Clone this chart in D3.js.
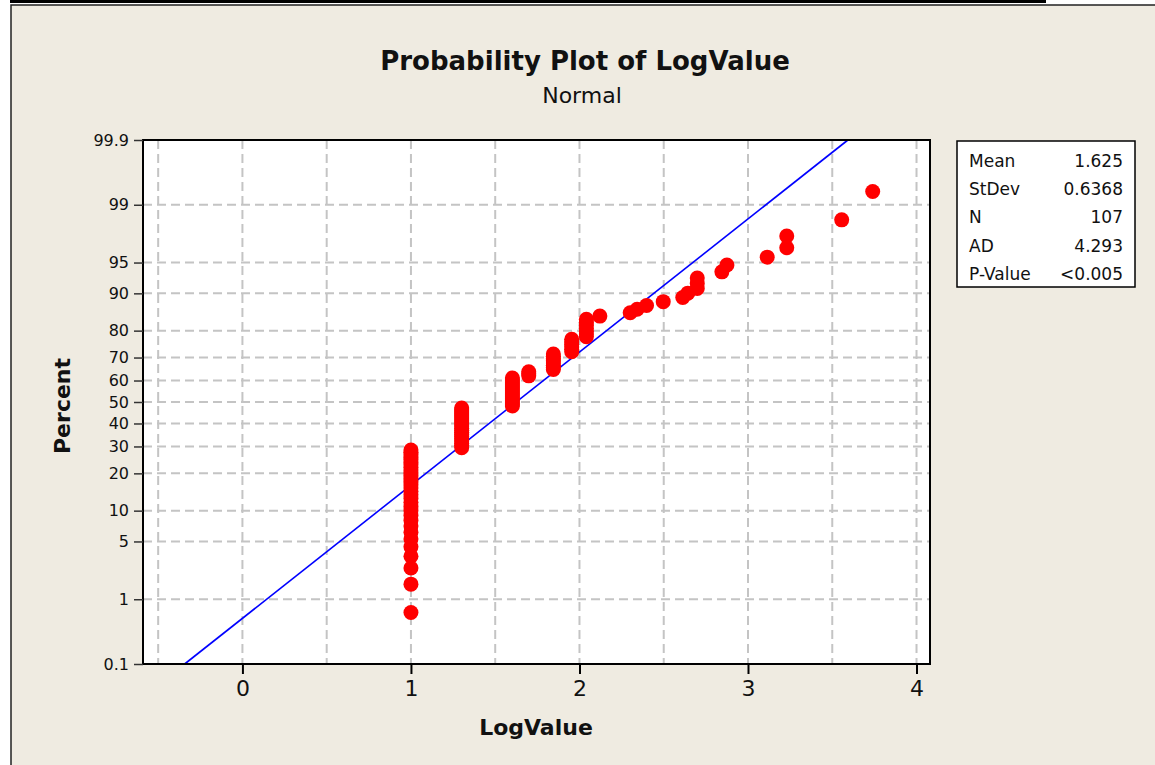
<!DOCTYPE html>
<html><head><meta charset="utf-8">
<script src="https://cdn.jsdelivr.net/npm/d3@7"></script>
<style>
html,body{margin:0;padding:0;background:#fff;}
svg{display:block;}
text{font-family:"DejaVu Sans",sans-serif;}
</style></head><body>
<svg id="chart" width="1155" height="765"></svg>
<script>
// Observed LogValue levels (ascending) and how many observations sit at each level
const logLevels   = [1.000, 1.301, 1.602, 1.699, 1.845, 1.954, 2.041, 2.121, 2.301, 2.342, 2.398, 2.497, 2.613, 2.643, 2.699, 2.845, 2.875, 3.114, 3.230, 3.556, 3.740];
const levelCounts = [31,    20,    15,    3,     8,     6,     7,     1,     1,     1,     1,     1,     1,     1,     3,     1,     1,     1,     2,     1,     1];

// Fitted normal distribution and summary statistics
const fitMean = 1.625;
const fitStDev = 0.6368;
const statLabels = ["Mean", "StDev", "N", "AD", "P-Value"];
const statValues = ["1.625", "0.6368", "107", "4.293", "<0.005"];

// Axis ticks
const xTicks = [0, 1, 2, 3, 4];
const xGrid = [-0.5, 0, 0.5, 1, 1.5, 2, 2.5, 3, 3.5, 4];
const xDomain = [-0.59, 4.08];
const pctTicks = [0.1, 1, 5, 10, 20, 30, 40, 50, 60, 70, 80, 90, 95, 99, 99.9];
const pctLabels = ["0.1", "1", "5", "10", "20", "30", "40", "50", "60", "70", "80", "90", "95", "99", "99.9"];

// Inverse of the standard normal CDF (Acklam's rational approximation)
function normInv(p) {
  const a = [-3.969683028665376e+01, 2.209460984245205e+02, -2.759285104469687e+02, 1.383577518672690e+02, -3.066479806614716e+01, 2.506628277459239e+00];
  const b = [-5.447609879822406e+01, 1.615858368580409e+02, -1.556989798598866e+02, 6.680131188771972e+01, -1.328068155288572e+01];
  const c = [-7.784894002430293e-03, -3.223964580411365e-01, -2.400758277161838e+00, -2.549732539343734e+00, 4.374664141464968e+00, 2.938163982698783e+00];
  const d = [7.784695709041462e-03, 3.224671290700398e-01, 2.445134137142996e+00, 3.754408661907416e+00];
  const pl = 0.02425, ph = 1 - pl;
  let q, r;
  if (p < pl) {
    q = Math.sqrt(-2 * Math.log(p));
    return (((((c[0]*q+c[1])*q+c[2])*q+c[3])*q+c[4])*q+c[5]) / ((((d[0]*q+d[1])*q+d[2])*q+d[3])*q+1);
  }
  if (p <= ph) {
    q = p - 0.5; r = q * q;
    return (((((a[0]*r+a[1])*r+a[2])*r+a[3])*r+a[4])*r+a[5])*q / (((((b[0]*r+b[1])*r+b[2])*r+b[3])*r+b[4])*r+1);
  }
  q = Math.sqrt(-2 * Math.log(1 - p));
  return -(((((c[0]*q+c[1])*q+c[2])*q+c[3])*q+c[4])*q+c[5]) / ((((d[0]*q+d[1])*q+d[2])*q+d[3])*q+1);
}

// Sorted sample and median-rank plotting positions (i - 0.3) / (n + 0.4)
const sample = [];
logLevels.forEach((v, k) => { for (let j = 0; j < levelCounts[k]; j++) sample.push(v); });
const n = sample.length;
const points = sample.map((v, i) => ({ v, p: (i + 1 - 0.3) / (n + 0.4) }));

const W = 1155, H = 765;
const plot = { left: 143, right: 930, top: 140, bottom: 664 };
const svg = d3.select("#chart");

// Page background and outer frame
svg.append("rect").attr("x", 0).attr("y", 0).attr("width", W).attr("height", H).attr("fill", "#fff");
svg.append("rect").attr("x", 11).attr("y", 5).attr("width", W).attr("height", H)
  .attr("fill", "#EFEBE1").attr("stroke", "#222").attr("stroke-width", 1.5);
svg.append("rect").attr("x", 10).attr("y", 0).attr("width", 1036).attr("height", 3).attr("fill", "#000");

// Scales: linear in LogValue, normal-quantile in percent
const x = d3.scaleLinear().domain(xDomain).range([plot.left, plot.right]);
const y = d3.scaleLinear().domain([normInv(0.001), normInv(0.999)]).range([plot.bottom, plot.top]);
const yPct = pct => y(normInv(pct / 100));

// Plot area
svg.append("rect").attr("x", plot.left).attr("y", plot.top)
  .attr("width", plot.right - plot.left).attr("height", plot.bottom - plot.top).attr("fill", "#fff");

const gridG = svg.append("g").attr("stroke", "#C4C4C4").attr("stroke-width", 2).attr("stroke-dasharray", "9,5");
gridG.selectAll("line.v").data(xGrid).join("line").attr("class", "v")
  .attr("x1", d => x(d)).attr("x2", d => x(d)).attr("y1", plot.top).attr("y2", plot.bottom);
gridG.selectAll("line.h").data(pctTicks.filter(p => p > 0.1 && p < 99.9)).join("line").attr("class", "h")
  .attr("x1", plot.left).attr("x2", plot.right).attr("y1", d => yPct(d)).attr("y2", d => yPct(d));

// Fitted normal line across the plotted percent range
const zLo = normInv(0.001), zHi = normInv(0.999);
svg.append("line")
  .attr("x1", x(fitMean + fitStDev * zLo)).attr("y1", y(zLo))
  .attr("x2", x(fitMean + fitStDev * zHi)).attr("y2", y(zHi))
  .attr("stroke", "#0000FF").attr("stroke-width", 1.6);

// Data points
svg.append("g").selectAll("circle").data(points).join("circle")
  .attr("cx", d => x(d.v)).attr("cy", d => y(normInv(d.p))).attr("r", 7.5).attr("fill", "#FF0000");

// Frame
svg.append("rect").attr("x", plot.left).attr("y", plot.top)
  .attr("width", plot.right - plot.left).attr("height", plot.bottom - plot.top)
  .attr("fill", "none").attr("stroke", "#000").attr("stroke-width", 2);

// Axes
const xAxis = svg.append("g").attr("transform", `translate(0,${plot.bottom})`)
  .call(d3.axisBottom(x).tickValues(xTicks).tickSize(10).tickPadding(6).tickFormat(d3.format("d")));
xAxis.select(".domain").remove();
xAxis.selectAll(".tick line").attr("stroke", "#000").attr("stroke-width", 2);
xAxis.selectAll(".tick text").attr("font-size", 22).attr("fill", "#111").attr("font-family", "DejaVu Sans");

const yAxis = svg.append("g").attr("transform", `translate(${plot.left},0)`)
  .call(d3.axisLeft(y).tickValues(pctTicks.map(p => normInv(p / 100))).tickSize(9).tickPadding(5)
    .tickFormat((d, i) => pctLabels[i]));
yAxis.select(".domain").remove();
yAxis.selectAll(".tick line").attr("stroke", "#333").attr("stroke-width", 1.5);
yAxis.selectAll(".tick text").attr("font-size", 16).attr("fill", "#111").attr("font-family", "DejaVu Sans");

// Titles
svg.append("text").attr("x", 585).attr("y", 70).attr("text-anchor", "middle")
  .attr("font-size", 26).attr("font-weight", "bold").attr("fill", "#111").text("Probability Plot of LogValue");
svg.append("text").attr("x", 582).attr("y", 103).attr("text-anchor", "middle")
  .attr("font-size", 22).attr("fill", "#111").text("Normal");
svg.append("text").attr("x", 536).attr("y", 735).attr("text-anchor", "middle")
  .attr("font-size", 22).attr("font-weight", "bold").attr("fill", "#111").text("LogValue");
svg.append("text").attr("transform", "translate(70,406) rotate(-90)").attr("text-anchor", "middle")
  .attr("font-size", 22).attr("font-weight", "bold").attr("fill", "#111").text("Percent");

// Statistics box
const box = { x: 957, y: 141, w: 178, h: 146 };
svg.append("rect").attr("x", box.x).attr("y", box.y).attr("width", box.w).attr("height", box.h)
  .attr("fill", "#fff").attr("stroke", "#000").attr("stroke-width", 1.5);
const rows = svg.append("g").selectAll("g").data(statLabels).join("g")
  .attr("transform", (d, i) => `translate(0,${166.7 + i * 28.33})`);
rows.append("text").attr("x", 969).attr("font-size", 17).attr("fill", "#111").text(d => d);
rows.append("text").attr("x", 1123).attr("text-anchor", "end").attr("font-size", 17).attr("fill", "#111")
  .text((d, i) => statValues[i]);
</script>
</body></html>
